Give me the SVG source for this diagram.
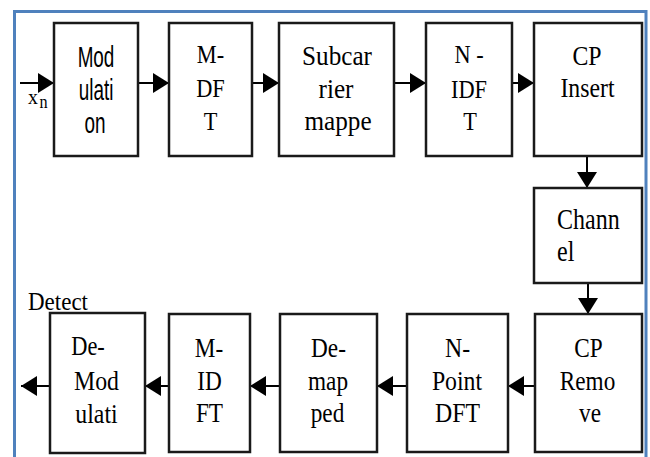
<svg xmlns="http://www.w3.org/2000/svg" width="650" height="457" viewBox="0 0 650 457">
<defs>
<style>
.frame{fill:none;stroke:#4F81BD;stroke-width:3}
.box{fill:#fff;stroke:#1a1a1a;stroke-width:2.5}
.t{font-family:'Liberation Serif','Times New Roman',serif;fill:#000;text-anchor:middle}
.s{font-family:'Liberation Sans',Arial,sans-serif;fill:#000;text-anchor:middle}
.l{text-anchor:start}
.ln{stroke:#000;stroke-width:2;fill:none}
</style>
<marker id="ah" markerUnits="userSpaceOnUse" markerWidth="16" markerHeight="20" refX="16" refY="10" orient="auto">
<path d="M0,0 L16,10 L0,20 Z" fill="#000"/>
</marker>
</defs>
<rect class="frame" x="14.5" y="11.5" width="631.5" height="460"/>

<g id="connectors">
<line class="ln" x1="20" y1="83" x2="54" y2="83" marker-end="url(#ah)"/>
<line class="ln" x1="138" y1="83" x2="169" y2="83" marker-end="url(#ah)"/>
<line class="ln" x1="252" y1="83" x2="279" y2="83" marker-end="url(#ah)"/>
<line class="ln" x1="394" y1="83" x2="426" y2="83" marker-end="url(#ah)"/>
<line class="ln" x1="512" y1="83" x2="534" y2="83" marker-end="url(#ah)"/>
<line class="ln" x1="587" y1="156" x2="587" y2="188" marker-end="url(#ah)"/>
<line class="ln" x1="588" y1="283" x2="588" y2="314" marker-end="url(#ah)"/>
<line class="ln" x1="535" y1="386" x2="508" y2="386" marker-end="url(#ah)"/>
<line class="ln" x1="407" y1="386" x2="377" y2="386" marker-end="url(#ah)"/>
<line class="ln" x1="280" y1="386" x2="250" y2="386" marker-end="url(#ah)"/>
<line class="ln" x1="169" y1="386" x2="145" y2="386" marker-end="url(#ah)"/>
<line class="ln" x1="50" y1="386" x2="21" y2="386" marker-end="url(#ah)"/>
</g>

<g id="input-label">
<text class="t l" transform="translate(28,104) scale(0.9,1)" font-size="22">x</text>
<text class="t l" transform="translate(39.5,107.5) scale(0.9,1)" font-size="18">n</text>
</g>

<g id="modulation">
<rect class="box" x="54" y="23" width="84" height="133"/>
<text class="s" transform="translate(96,67) scale(0.63,1)" font-size="30">Mod</text>
<text class="s" transform="translate(96,100) scale(0.63,1)" font-size="30">ulati</text>
<text class="s" transform="translate(95,133) scale(0.63,1)" font-size="30">on</text>
</g>

<g id="m-dft">
<rect class="box" x="169" y="23" width="83" height="133"/>
<text class="t" transform="translate(210.5,63) scale(0.86,1)" font-size="26">M-</text>
<text class="t" transform="translate(210.5,97) scale(0.86,1)" font-size="26">DF</text>
<text class="t" transform="translate(210.5,130) scale(0.86,1)" font-size="26">T</text>
</g>

<g id="subcarrier">
<rect class="box" x="279" y="23" width="115" height="133"/>
<text class="t" transform="translate(337,65) scale(0.9,1)" font-size="28">Subcar</text>
<text class="t" transform="translate(336,98) scale(0.9,1)" font-size="28">rier</text>
<text class="t" transform="translate(338,130) scale(0.9,1)" font-size="28">mappe</text>
</g>

<g id="n-idft">
<rect class="box" x="426" y="23" width="86" height="133"/>
<text class="t" transform="translate(469,63) scale(0.86,1)" font-size="26">N -</text>
<text class="t" transform="translate(469,98) scale(0.86,1)" font-size="26">IDF</text>
<text class="t" transform="translate(470,130) scale(0.86,1)" font-size="26">T</text>
</g>

<g id="cp-insert">
<rect class="box" x="534" y="23" width="108" height="133"/>
<text class="t" transform="translate(587,65) scale(0.85,1)" font-size="28">CP</text>
<text class="t" transform="translate(587.5,97) scale(0.85,1)" font-size="28">Insert</text>
</g>

<g id="channel">
<rect class="box" x="534" y="188" width="108" height="95"/>
<text class="t l" transform="translate(557,229) scale(0.8,1)" font-size="30">Chann</text>
<text class="t l" transform="translate(557,261) scale(0.8,1)" font-size="30">el</text>
</g>

<g id="cp-remove">
<rect class="box" x="535" y="314" width="107" height="138"/>
<text class="t" transform="translate(588.5,357) scale(0.83,1)" font-size="28">CP</text>
<text class="t" transform="translate(587.5,390) scale(0.83,1)" font-size="28">Remo</text>
<text class="t" transform="translate(590,422) scale(0.83,1)" font-size="28">ve</text>
</g>

<g id="n-point-dft">
<rect class="box" x="407" y="314" width="101" height="138"/>
<text class="t" transform="translate(457.5,357) scale(0.85,1)" font-size="28">N-</text>
<text class="t" transform="translate(457,390) scale(0.85,1)" font-size="28">Point</text>
<text class="t" transform="translate(457.5,422) scale(0.85,1)" font-size="28">DFT</text>
</g>

<g id="de-mapped">
<rect class="box" x="280" y="314" width="97" height="138"/>
<text class="t" transform="translate(328.5,357) scale(0.83,1)" font-size="28">De-</text>
<text class="t" transform="translate(328,390) scale(0.83,1)" font-size="28">map</text>
<text class="t" transform="translate(327.5,422) scale(0.83,1)" font-size="28">ped</text>
</g>

<g id="m-idft">
<rect class="box" x="169" y="314" width="81" height="138"/>
<text class="t" transform="translate(209,357) scale(0.83,1)" font-size="28">M-</text>
<text class="t" transform="translate(209.5,390) scale(0.83,1)" font-size="28">ID</text>
<text class="t" transform="translate(209.5,422) scale(0.83,1)" font-size="28">FT</text>
</g>

<g id="de-modulation">
<rect class="box" x="50" y="313" width="95" height="140"/>
<text class="t" transform="translate(88,355) scale(0.8,1)" font-size="28">De-</text>
<text class="t" transform="translate(96.5,390) scale(0.85,1)" font-size="28">Mod</text>
<text class="t" transform="translate(96.5,423) scale(0.85,1)" font-size="28">ulati</text>
</g>

<g id="detect-label">
<text class="t l" transform="translate(28,310) scale(0.92,1)" font-size="25">Detect</text>
</g>
</svg>
